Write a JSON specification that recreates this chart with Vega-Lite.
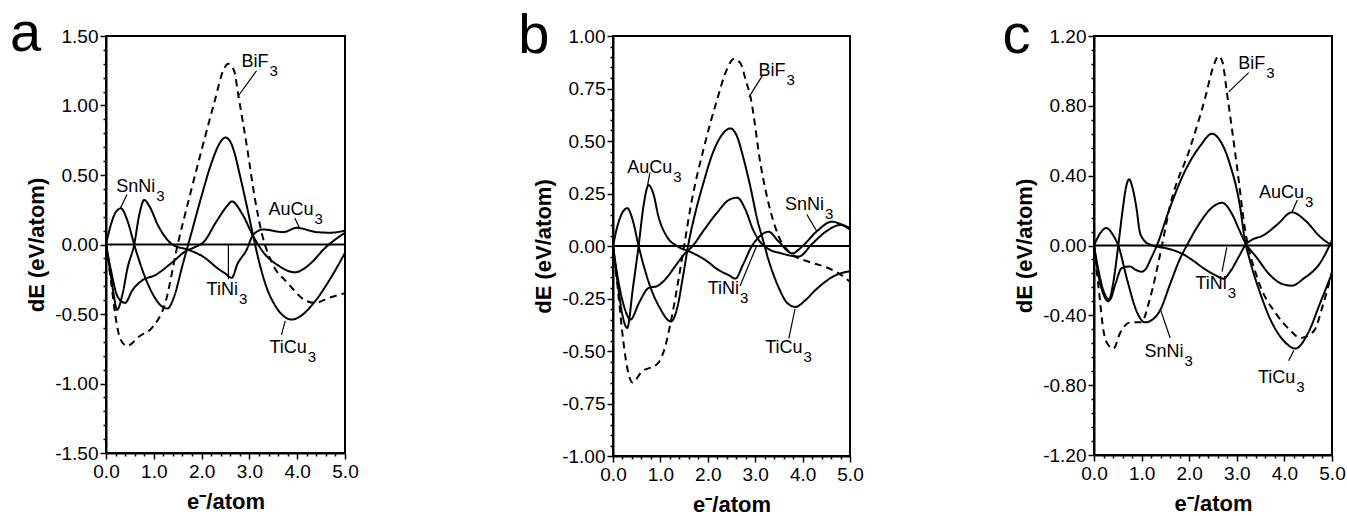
{
"$schema": "https://vega.github.io/schema/vega-lite/v6.json",
"background": "white",
"padding": {"left": 9, "top": 5, "right": 0, "bottom": 0},
"config": {"view": {"stroke": "black", "strokeWidth": 2}, "font": "Liberation Sans", "concat": {"spacing": 136},
 "axis": {"grid":false,"domainColor":"black","domainWidth":2,"tickColor":"black","tickWidth":1.5,"labelColor":"black","labelFontSize":19,"labelFont":"Liberation Sans","labelOverlap":false,"labelFlush":false,"titleFontSize":22,"titleFont":"Liberation Sans","titleFontWeight":"bold","titleColor":"black"},
 "axisX": {"labelPadding":3,"titlePadding":10},
 "axisY": {"labelPadding":2,"titlePadding":6},
 "text": {"font":"Liberation Sans","color":"black"}},
"datasets": {
"curves": [
{"panel":"a","series":"BiF3","x":0,"y":0},{"panel":"a","series":"BiF3","x":0.1,"y":-0.25},{"panel":"a","series":"BiF3","x":0.2,"y":-0.52},{"panel":"a","series":"BiF3","x":0.3,"y":-0.68},{"panel":"a","series":"BiF3","x":0.44,"y":-0.73},{"panel":"a","series":"BiF3","x":0.7,"y":-0.66},{"panel":"a","series":"BiF3","x":0.96,"y":-0.6},{"panel":"a","series":"BiF3","x":1.24,"y":-0.42},{"panel":"a","series":"BiF3","x":1.5,"y":0},{"panel":"a","series":"BiF3","x":1.73,"y":0.32},{"panel":"a","series":"BiF3","x":2.0,"y":0.68},{"panel":"a","series":"BiF3","x":2.28,"y":1.04},{"panel":"a","series":"BiF3","x":2.45,"y":1.25},{"panel":"a","series":"BiF3","x":2.56,"y":1.3},{"panel":"a","series":"BiF3","x":2.68,"y":1.25},{"panel":"a","series":"BiF3","x":2.77,"y":1.07},{"panel":"a","series":"BiF3","x":2.95,"y":0.7},{"panel":"a","series":"BiF3","x":3.12,"y":0.32},{"panel":"a","series":"BiF3","x":3.26,"y":0.08},{"panel":"a","series":"BiF3","x":3.47,"y":-0.13},{"panel":"a","series":"BiF3","x":3.81,"y":-0.28},{"panel":"a","series":"BiF3","x":4.16,"y":-0.4},{"panel":"a","series":"BiF3","x":4.37,"y":-0.42},{"panel":"a","series":"BiF3","x":4.7,"y":-0.38},{"panel":"a","series":"BiF3","x":5.0,"y":-0.35},
{"panel":"a","series":"S1","x":0,"y":0},{"panel":"a","series":"S1","x":0.1,"y":0.14},{"panel":"a","series":"S1","x":0.2,"y":0.23},{"panel":"a","series":"S1","x":0.31,"y":0.26},{"panel":"a","series":"S1","x":0.45,"y":0.17},{"panel":"a","series":"S1","x":0.59,"y":0},{"panel":"a","series":"S1","x":0.8,"y":-0.22},{"panel":"a","series":"S1","x":1.0,"y":-0.37},{"panel":"a","series":"S1","x":1.15,"y":-0.44},{"panel":"a","series":"S1","x":1.29,"y":-0.46},{"panel":"a","series":"S1","x":1.42,"y":-0.38},{"panel":"a","series":"S1","x":1.6,"y":-0.15},{"panel":"a","series":"S1","x":1.8,"y":0.1},{"panel":"a","series":"S1","x":2.0,"y":0.35},{"panel":"a","series":"S1","x":2.2,"y":0.58},{"panel":"a","series":"S1","x":2.4,"y":0.74},{"panel":"a","series":"S1","x":2.5,"y":0.77},{"panel":"a","series":"S1","x":2.6,"y":0.74},{"panel":"a","series":"S1","x":2.67,"y":0.68},{"panel":"a","series":"S1","x":2.8,"y":0.5},{"panel":"a","series":"S1","x":2.95,"y":0.27},{"panel":"a","series":"S1","x":3.08,"y":0.06},{"panel":"a","series":"S1","x":3.2,"y":-0.12},{"panel":"a","series":"S1","x":3.35,"y":-0.3},{"panel":"a","series":"S1","x":3.54,"y":-0.44},{"panel":"a","series":"S1","x":3.7,"y":-0.51},{"panel":"a","series":"S1","x":3.88,"y":-0.54},{"panel":"a","series":"S1","x":4.05,"y":-0.52},{"panel":"a","series":"S1","x":4.3,"y":-0.44},{"panel":"a","series":"S1","x":4.72,"y":-0.23},{"panel":"a","series":"S1","x":5.0,"y":-0.06},
{"panel":"a","series":"S2","x":0,"y":0},{"panel":"a","series":"S2","x":0.1,"y":-0.22},{"panel":"a","series":"S2","x":0.17,"y":-0.38},{"panel":"a","series":"S2","x":0.23,"y":-0.47},{"panel":"a","series":"S2","x":0.35,"y":-0.35},{"panel":"a","series":"S2","x":0.45,"y":-0.17},{"panel":"a","series":"S2","x":0.59,"y":0},{"panel":"a","series":"S2","x":0.7,"y":0.22},{"panel":"a","series":"S2","x":0.8,"y":0.32},{"panel":"a","series":"S2","x":0.9,"y":0.28},{"panel":"a","series":"S2","x":1.1,"y":0.13},{"panel":"a","series":"S2","x":1.39,"y":0},{"panel":"a","series":"S2","x":1.74,"y":-0.04},{"panel":"a","series":"S2","x":2.02,"y":-0.085},{"panel":"a","series":"S2","x":2.37,"y":-0.18},{"panel":"a","series":"S2","x":2.5,"y":-0.21},{"panel":"a","series":"S2","x":2.63,"y":-0.24},{"panel":"a","series":"S2","x":2.75,"y":-0.14},{"panel":"a","series":"S2","x":2.94,"y":-0.04},{"panel":"a","series":"S2","x":3.08,"y":0.07},{"panel":"a","series":"S2","x":3.29,"y":0.108},{"panel":"a","series":"S2","x":3.71,"y":0.089},{"panel":"a","series":"S2","x":3.99,"y":0.12},{"panel":"a","series":"S2","x":4.41,"y":0.089},{"panel":"a","series":"S2","x":4.7,"y":0.085},{"panel":"a","series":"S2","x":5.0,"y":0.1},
{"panel":"a","series":"S3","x":0,"y":0},{"panel":"a","series":"S3","x":0.1,"y":-0.18},{"panel":"a","series":"S3","x":0.25,"y":-0.38},{"panel":"a","series":"S3","x":0.4,"y":-0.42},{"panel":"a","series":"S3","x":0.55,"y":-0.33},{"panel":"a","series":"S3","x":0.75,"y":-0.26},{"panel":"a","series":"S3","x":1.03,"y":-0.22},{"panel":"a","series":"S3","x":1.38,"y":-0.13},{"panel":"a","series":"S3","x":1.66,"y":-0.05},{"panel":"a","series":"S3","x":1.85,"y":-0.02},{"panel":"a","series":"S3","x":2.05,"y":0.02},{"panel":"a","series":"S3","x":2.3,"y":0.16},{"panel":"a","series":"S3","x":2.54,"y":0.28},{"panel":"a","series":"S3","x":2.63,"y":0.31},{"panel":"a","series":"S3","x":2.85,"y":0.22},{"panel":"a","series":"S3","x":3.08,"y":0.06},{"panel":"a","series":"S3","x":3.3,"y":-0.06},{"panel":"a","series":"S3","x":3.6,"y":-0.15},{"panel":"a","series":"S3","x":3.95,"y":-0.2},{"panel":"a","series":"S3","x":4.3,"y":-0.13},{"panel":"a","series":"S3","x":4.55,"y":-0.036},{"panel":"a","series":"S3","x":5.0,"y":0.085},

{"panel":"b","series":"BiF3","x":0,"y":0},{"panel":"b","series":"BiF3","x":0.1,"y":-0.2},{"panel":"b","series":"BiF3","x":0.2,"y":-0.42},{"panel":"b","series":"BiF3","x":0.3,"y":-0.58},{"panel":"b","series":"BiF3","x":0.41,"y":-0.65},{"panel":"b","series":"BiF3","x":0.6,"y":-0.6},{"panel":"b","series":"BiF3","x":0.94,"y":-0.56},{"panel":"b","series":"BiF3","x":1.1,"y":-0.48},{"panel":"b","series":"BiF3","x":1.22,"y":-0.36},{"panel":"b","series":"BiF3","x":1.5,"y":0},{"panel":"b","series":"BiF3","x":1.64,"y":0.19},{"panel":"b","series":"BiF3","x":1.92,"y":0.47},{"panel":"b","series":"BiF3","x":2.2,"y":0.7},{"panel":"b","series":"BiF3","x":2.4,"y":0.84},{"panel":"b","series":"BiF3","x":2.55,"y":0.89},{"panel":"b","series":"BiF3","x":2.69,"y":0.87},{"panel":"b","series":"BiF3","x":2.8,"y":0.79},{"panel":"b","series":"BiF3","x":2.9,"y":0.71},{"panel":"b","series":"BiF3","x":3.12,"y":0.38},{"panel":"b","series":"BiF3","x":3.33,"y":0.16},{"panel":"b","series":"BiF3","x":3.5,"y":0.044},{"panel":"b","series":"BiF3","x":3.78,"y":-0.04},{"panel":"b","series":"BiF3","x":4.13,"y":-0.075},{"panel":"b","series":"BiF3","x":4.55,"y":-0.106},{"panel":"b","series":"BiF3","x":4.76,"y":-0.13},{"panel":"b","series":"BiF3","x":5.0,"y":-0.17},
{"panel":"b","series":"S1","x":0,"y":0},{"panel":"b","series":"S1","x":0.1,"y":0.1},{"panel":"b","series":"S1","x":0.2,"y":0.16},{"panel":"b","series":"S1","x":0.3,"y":0.18},{"panel":"b","series":"S1","x":0.42,"y":0.12},{"panel":"b","series":"S1","x":0.54,"y":0},{"panel":"b","series":"S1","x":0.75,"y":-0.17},{"panel":"b","series":"S1","x":1.0,"y":-0.3},{"panel":"b","series":"S1","x":1.22,"y":-0.36},{"panel":"b","series":"S1","x":1.36,"y":-0.29},{"panel":"b","series":"S1","x":1.48,"y":-0.14},{"panel":"b","series":"S1","x":1.6,"y":0.02},{"panel":"b","series":"S1","x":1.75,"y":0.17},{"panel":"b","series":"S1","x":1.92,"y":0.31},{"panel":"b","series":"S1","x":2.1,"y":0.44},{"panel":"b","series":"S1","x":2.3,"y":0.53},{"panel":"b","series":"S1","x":2.48,"y":0.56},{"panel":"b","series":"S1","x":2.62,"y":0.52},{"panel":"b","series":"S1","x":2.75,"y":0.42},{"panel":"b","series":"S1","x":2.9,"y":0.28},{"panel":"b","series":"S1","x":3.05,"y":0.12},{"panel":"b","series":"S1","x":3.15,"y":0.04},{"panel":"b","series":"S1","x":3.3,"y":-0.08},{"panel":"b","series":"S1","x":3.5,"y":-0.2},{"panel":"b","series":"S1","x":3.67,"y":-0.27},{"panel":"b","series":"S1","x":3.85,"y":-0.29},{"panel":"b","series":"S1","x":4.05,"y":-0.26},{"panel":"b","series":"S1","x":4.27,"y":-0.21},{"panel":"b","series":"S1","x":4.69,"y":-0.14},{"panel":"b","series":"S1","x":5.0,"y":-0.12},
{"panel":"b","series":"S2","x":0,"y":0},{"panel":"b","series":"S2","x":0.1,"y":-0.18},{"panel":"b","series":"S2","x":0.2,"y":-0.33},{"panel":"b","series":"S2","x":0.3,"y":-0.39},{"panel":"b","series":"S2","x":0.42,"y":-0.2},{"panel":"b","series":"S2","x":0.54,"y":0},{"panel":"b","series":"S2","x":0.65,"y":0.2},{"panel":"b","series":"S2","x":0.75,"y":0.29},{"panel":"b","series":"S2","x":0.85,"y":0.25},{"panel":"b","series":"S2","x":0.96,"y":0.14},{"panel":"b","series":"S2","x":1.15,"y":0.04},{"panel":"b","series":"S2","x":1.35,"y":0},{"panel":"b","series":"S2","x":1.65,"y":-0.03},{"panel":"b","series":"S2","x":1.95,"y":-0.067},{"panel":"b","series":"S2","x":2.23,"y":-0.115},{"panel":"b","series":"S2","x":2.45,"y":-0.14},{"panel":"b","series":"S2","x":2.58,"y":-0.155},{"panel":"b","series":"S2","x":2.75,"y":-0.085},{"panel":"b","series":"S2","x":2.93,"y":0},{"panel":"b","series":"S2","x":3.07,"y":0.04},{"panel":"b","series":"S2","x":3.28,"y":0.068},{"panel":"b","series":"S2","x":3.5,"y":0.02},{"panel":"b","series":"S2","x":3.78,"y":-0.035},{"panel":"b","series":"S2","x":4.0,"y":0},{"panel":"b","series":"S2","x":4.3,"y":0.07},{"panel":"b","series":"S2","x":4.62,"y":0.116},{"panel":"b","series":"S2","x":4.8,"y":0.105},{"panel":"b","series":"S2","x":5.0,"y":0.085},
{"panel":"b","series":"S3","x":0,"y":0},{"panel":"b","series":"S3","x":0.1,"y":-0.15},{"panel":"b","series":"S3","x":0.25,"y":-0.3},{"panel":"b","series":"S3","x":0.37,"y":-0.35},{"panel":"b","series":"S3","x":0.55,"y":-0.27},{"panel":"b","series":"S3","x":0.75,"y":-0.2},{"panel":"b","series":"S3","x":0.94,"y":-0.19},{"panel":"b","series":"S3","x":1.1,"y":-0.16},{"panel":"b","series":"S3","x":1.3,"y":-0.1},{"panel":"b","series":"S3","x":1.5,"y":-0.04},{"panel":"b","series":"S3","x":1.68,"y":0},{"panel":"b","series":"S3","x":1.9,"y":0.07},{"panel":"b","series":"S3","x":2.2,"y":0.16},{"panel":"b","series":"S3","x":2.45,"y":0.22},{"panel":"b","series":"S3","x":2.62,"y":0.23},{"panel":"b","series":"S3","x":2.8,"y":0.17},{"panel":"b","series":"S3","x":2.95,"y":0.08},{"panel":"b","series":"S3","x":3.07,"y":0.03},{"panel":"b","series":"S3","x":3.25,"y":-0.01},{"panel":"b","series":"S3","x":3.55,"y":-0.035},{"panel":"b","series":"S3","x":3.92,"y":-0.05},{"panel":"b","series":"S3","x":4.2,"y":0.01},{"panel":"b","series":"S3","x":4.5,"y":0.07},{"panel":"b","series":"S3","x":4.8,"y":0.1},{"panel":"b","series":"S3","x":5.0,"y":0.078},

{"panel":"c","series":"BiF3","x":0,"y":0},{"panel":"c","series":"BiF3","x":0.1,"y":-0.25},{"panel":"c","series":"BiF3","x":0.2,"y":-0.49},{"panel":"c","series":"BiF3","x":0.3,"y":-0.57},{"panel":"c","series":"BiF3","x":0.41,"y":-0.59},{"panel":"c","series":"BiF3","x":0.55,"y":-0.5},{"panel":"c","series":"BiF3","x":0.76,"y":-0.44},{"panel":"c","series":"BiF3","x":0.99,"y":-0.44},{"panel":"c","series":"BiF3","x":1.18,"y":-0.3},{"panel":"c","series":"BiF3","x":1.39,"y":-0.05},{"panel":"c","series":"BiF3","x":1.6,"y":0.23},{"panel":"c","series":"BiF3","x":2.02,"y":0.56},{"panel":"c","series":"BiF3","x":2.34,"y":0.85},{"panel":"c","series":"BiF3","x":2.5,"y":1.02},{"panel":"c","series":"BiF3","x":2.62,"y":1.085},{"panel":"c","series":"BiF3","x":2.7,"y":1.05},{"panel":"c","series":"BiF3","x":2.79,"y":0.88},{"panel":"c","series":"BiF3","x":3.0,"y":0.46},{"panel":"c","series":"BiF3","x":3.18,"y":0.08},{"panel":"c","series":"BiF3","x":3.43,"y":-0.185},{"panel":"c","series":"BiF3","x":3.85,"y":-0.4},{"panel":"c","series":"BiF3","x":4.1,"y":-0.48},{"panel":"c","series":"BiF3","x":4.34,"y":-0.53},{"panel":"c","series":"BiF3","x":4.62,"y":-0.49},{"panel":"c","series":"BiF3","x":4.8,"y":-0.35},{"panel":"c","series":"BiF3","x":5.0,"y":-0.15},
{"panel":"c","series":"S1","x":0,"y":0},{"panel":"c","series":"S1","x":0.1,"y":-0.15},{"panel":"c","series":"S1","x":0.2,"y":-0.26},{"panel":"c","series":"S1","x":0.33,"y":-0.31},{"panel":"c","series":"S1","x":0.45,"y":-0.22},{"panel":"c","series":"S1","x":0.58,"y":-0.13},{"panel":"c","series":"S1","x":0.75,"y":-0.12},{"panel":"c","series":"S1","x":0.88,"y":-0.14},{"panel":"c","series":"S1","x":1.0,"y":-0.15},{"panel":"c","series":"S1","x":1.1,"y":-0.13},{"panel":"c","series":"S1","x":1.17,"y":-0.09},{"panel":"c","series":"S1","x":1.32,"y":0},{"panel":"c","series":"S1","x":1.6,"y":0.22},{"panel":"c","series":"S1","x":1.9,"y":0.42},{"panel":"c","series":"S1","x":2.23,"y":0.57},{"panel":"c","series":"S1","x":2.48,"y":0.64},{"panel":"c","series":"S1","x":2.65,"y":0.6},{"panel":"c","series":"S1","x":2.85,"y":0.47},{"panel":"c","series":"S1","x":3.07,"y":0.22},{"panel":"c","series":"S1","x":3.17,"y":0.03},{"panel":"c","series":"S1","x":3.28,"y":-0.09},{"panel":"c","series":"S1","x":3.5,"y":-0.28},{"panel":"c","series":"S1","x":3.7,"y":-0.42},{"panel":"c","series":"S1","x":4.0,"y":-0.55},{"panel":"c","series":"S1","x":4.23,"y":-0.59},{"panel":"c","series":"S1","x":4.5,"y":-0.5},{"panel":"c","series":"S1","x":4.75,"y":-0.33},{"panel":"c","series":"S1","x":5.0,"y":-0.16},
{"panel":"c","series":"S2","x":0,"y":0},{"panel":"c","series":"S2","x":0.1,"y":-0.18},{"panel":"c","series":"S2","x":0.2,"y":-0.28},{"panel":"c","series":"S2","x":0.3,"y":-0.32},{"panel":"c","series":"S2","x":0.4,"y":-0.22},{"panel":"c","series":"S2","x":0.51,"y":0},{"panel":"c","series":"S2","x":0.6,"y":0.2},{"panel":"c","series":"S2","x":0.67,"y":0.33},{"panel":"c","series":"S2","x":0.74,"y":0.38},{"panel":"c","series":"S2","x":0.8,"y":0.34},{"panel":"c","series":"S2","x":0.9,"y":0.2},{"panel":"c","series":"S2","x":0.96,"y":0.08},{"panel":"c","series":"S2","x":1.05,"y":0.03},{"panel":"c","series":"S2","x":1.17,"y":0.006},{"panel":"c","series":"S2","x":1.3,"y":-0.005},{"panel":"c","series":"S2","x":1.5,"y":-0.015},{"panel":"c","series":"S2","x":1.87,"y":-0.05},{"panel":"c","series":"S2","x":2.1,"y":-0.09},{"panel":"c","series":"S2","x":2.3,"y":-0.13},{"panel":"c","series":"S2","x":2.55,"y":-0.17},{"panel":"c","series":"S2","x":2.72,"y":-0.19},{"panel":"c","series":"S2","x":2.86,"y":-0.15},{"panel":"c","series":"S2","x":3.05,"y":-0.06},{"panel":"c","series":"S2","x":3.2,"y":0.01},{"panel":"c","series":"S2","x":3.3,"y":0.03},{"panel":"c","series":"S2","x":3.57,"y":0.06},{"panel":"c","series":"S2","x":3.85,"y":0.12},{"panel":"c","series":"S2","x":4.16,"y":0.19},{"panel":"c","series":"S2","x":4.45,"y":0.14},{"panel":"c","series":"S2","x":4.75,"y":0.05},{"panel":"c","series":"S2","x":5.0,"y":0},
{"panel":"c","series":"S3","x":0,"y":0},{"panel":"c","series":"S3","x":0.13,"y":0.07},{"panel":"c","series":"S3","x":0.26,"y":0.1},{"panel":"c","series":"S3","x":0.4,"y":0.06},{"panel":"c","series":"S3","x":0.51,"y":0},{"panel":"c","series":"S3","x":0.7,"y":-0.2},{"panel":"c","series":"S3","x":0.9,"y":-0.38},{"panel":"c","series":"S3","x":1.07,"y":-0.44},{"panel":"c","series":"S3","x":1.25,"y":-0.42},{"panel":"c","series":"S3","x":1.39,"y":-0.37},{"panel":"c","series":"S3","x":1.6,"y":-0.22},{"panel":"c","series":"S3","x":1.8,"y":-0.08},{"panel":"c","series":"S3","x":1.95,"y":0},{"panel":"c","series":"S3","x":2.2,"y":0.12},{"panel":"c","series":"S3","x":2.45,"y":0.21},{"panel":"c","series":"S3","x":2.69,"y":0.245},{"panel":"c","series":"S3","x":2.9,"y":0.18},{"panel":"c","series":"S3","x":3.05,"y":0.09},{"panel":"c","series":"S3","x":3.17,"y":0.02},{"panel":"c","series":"S3","x":3.42,"y":-0.07},{"panel":"c","series":"S3","x":3.7,"y":-0.17},{"panel":"c","series":"S3","x":3.95,"y":-0.22},{"panel":"c","series":"S3","x":4.16,"y":-0.23},{"panel":"c","series":"S3","x":4.4,"y":-0.19},{"panel":"c","series":"S3","x":4.75,"y":-0.1},{"panel":"c","series":"S3","x":5.0,"y":0.03}
],
"labels": [
{"panel":"a","main":"BiF","sub":"3","x":3.4,"y":1.28},
{"panel":"a","main":"SnNi","sub":"3","x":1.03,"y":0.38},
{"panel":"a","main":"AuCu","sub":"3","x":4.34,"y":0.21},
{"panel":"a","main":"TiNi","sub":"3","x":2.76,"y":-0.36},
{"panel":"a","main":"TiCu","sub":"3","x":4.2,"y":-0.78},
{"panel":"b","main":"BiF","sub":"3","x":3.64,"y":0.81},
{"panel":"b","main":"AuCu","sub":"3","x":1.25,"y":0.35},
{"panel":"b","main":"SnNi","sub":"3","x":4.45,"y":0.17},
{"panel":"b","main":"TiNi","sub":"3","x":2.66,"y":-0.23},
{"panel":"b","main":"TiCu","sub":"3","x":4.0,"y":-0.51},
{"panel":"c","main":"BiF","sub":"3","x":3.6,"y":1.01},
{"panel":"c","main":"AuCu","sub":"3","x":4.41,"y":0.27},
{"panel":"c","main":"TiNi","sub":"3","x":2.79,"y":-0.25},
{"panel":"c","main":"SnNi","sub":"3","x":1.88,"y":-0.64},
{"panel":"c","main":"TiCu","sub":"3","x":4.23,"y":-0.79}
],
"leaders": [
{"panel":"a","x":3.15,"y":1.25,"x2":2.77,"y2":1.07},
{"panel":"a","x":0.44,"y":0.36,"x2":0.3,"y2":0.26},
{"panel":"a","x":3.95,"y":0.19,"x2":4.06,"y2":0.11},
{"panel":"a","x":2.56,"y":-0.25,"x2":2.56,"y2":0},
{"panel":"a","x":3.75,"y":-0.55,"x2":3.67,"y2":-0.65},
{"panel":"b","x":3.15,"y":0.81,"x2":2.87,"y2":0.71},
{"panel":"b","x":0.78,"y":0.35,"x2":0.73,"y2":0.29},
{"panel":"b","x":4.09,"y":0.15,"x2":4.3,"y2":0.07},
{"panel":"b","x":2.68,"y":-0.19,"x2":3.03,"y2":0},
{"panel":"b","x":3.84,"y":-0.3,"x2":3.71,"y2":-0.44},
{"panel":"c","x":3.25,"y":0.99,"x2":2.83,"y2":0.88},
{"panel":"c","x":4.27,"y":0.26,"x2":4.16,"y2":0.19},
{"panel":"c","x":2.69,"y":-0.15,"x2":2.79,"y2":-0.01},
{"panel":"c","x":1.6,"y":-0.53,"x2":1.4,"y2":-0.37},
{"panel":"c","x":4.09,"y":-0.66,"x2":4.2,"y2":-0.6}
],
"zero": [
{"panel":"a","x":0,"y":0,"x2":5,"y2":0},
{"panel":"b","x":0,"y":0,"x2":5,"y2":0},
{"panel":"c","x":0,"y":0,"x2":5,"y2":0}
],
"letters": [
{"panel":"a","letter":"a","x":-1.68,"y":1.39},
{"panel":"b","letter":"b","x":-1.67,"y":0.92},
{"panel":"c","letter":"c","x":-1.63,"y":1.1}
]
},
"hconcat": [
{
"width": 239, "height": 417,
"encoding": {
"x": {"field":"x","type":"quantitative","scale":{"domain":[0,5],"nice":false,"zero":false},
 "axis":{"title":"e⁻/atom","values":[0,0.2,0.4,0.6,0.8,1,1.2,1.4,1.6,1.8,2,2.2,2.4,2.6,2.8,3,3.2,3.4,3.6,3.8,4,4.2,4.4,4.6,4.8,5],
 "labelExpr":"datum.value % 1 == 0 ? format(datum.value, '.1f') : ''",
 "tickSize":{"condition":{"test":"datum.value % 1 == 0","value":6},"value":3}}},
"y": {"field":"y","type":"quantitative","scale":{"domain":[-1.5,1.5],"nice":false,"zero":false},
 "axis":{"title":"dE (eV/atom)","values":[-1.5,-1.4,-1.3,-1.2,-1.1,-1,-0.9,-0.8,-0.7,-0.6,-0.5,-0.4,-0.3,-0.2,-0.1,0,0.1,0.2,0.3,0.4,0.5,0.6,0.7,0.8,0.9,1,1.1,1.2,1.3,1.4,1.5],
 "labelExpr":"abs(datum.value*2 - round(datum.value*2)) < 0.000001 ? replace(format(datum.value, '.2f'), '−', '-') : ''",
 "tickSize":{"condition":{"test":"abs(datum.value*2 - round(datum.value*2)) < 0.000001","value":6},"value":3}}}
},
"layer": [
{"data":{"name":"zero"},"transform":[{"filter":"datum.panel == 'a'"}],"mark":{"type":"rule","strokeWidth":2,"color":"black"},"encoding":{"x2":{"field":"x2"},"y2":{"field":"y2"}}},
{"data":{"name":"curves"},"transform":[{"filter":"datum.panel == 'a'"}],"mark":{"type":"line","interpolate":"monotone","strokeWidth":2,"color":"black"},
 "encoding":{"detail":{"field":"series"},"strokeDash":{"field":"series","type":"nominal","scale":{"domain":["BiF3","S1","S2","S3"],"range":[[7,5],[1,0],[1,0],[1,0]]},"legend":null}}},
{"data":{"name":"leaders"},"transform":[{"filter":"datum.panel == 'a'"}],"mark":{"type":"rule","strokeWidth":1.2,"color":"black"},"encoding":{"x2":{"field":"x2"},"y2":{"field":"y2"}}},
{"data":{"name":"labels"},"transform":[{"filter":"datum.panel == 'a'"}],"mark":{"type":"text","align":"right","baseline":"alphabetic","fontSize":18},"encoding":{"text":{"field":"main"}}},
{"data":{"name":"labels"},"transform":[{"filter":"datum.panel == 'a'"}],"mark":{"type":"text","align":"left","baseline":"alphabetic","dx":1,"dy":9,"fontSize":15},"encoding":{"text":{"field":"sub"}}},
{"data":{"name":"letters"},"transform":[{"filter":"datum.panel == 'a'"}],"mark":{"type":"text","align":"center","baseline":"alphabetic","fontSize":56},"encoding":{"text":{"field":"letter"}}},
{"data":{"name":"letters"},"transform":[{"filter":"datum.panel == 'a'"}],"mark":{"type":"text","align":"left","baseline":"middle","fontSize":24,"opacity":0},"encoding":{"text":{"value":"M"},"x":{"datum":5.3},"y":{"datum":0}}}
]
},
{
"width": 237, "height": 420,
"encoding": {
"x": {"field":"x","type":"quantitative","scale":{"domain":[0,5],"nice":false,"zero":false},
 "axis":{"title":"e⁻/atom","values":[0,0.2,0.4,0.6,0.8,1,1.2,1.4,1.6,1.8,2,2.2,2.4,2.6,2.8,3,3.2,3.4,3.6,3.8,4,4.2,4.4,4.6,4.8,5],
 "labelExpr":"datum.value % 1 == 0 ? format(datum.value, '.1f') : ''",
 "tickSize":{"condition":{"test":"datum.value % 1 == 0","value":6},"value":3}}},
"y": {"field":"y","type":"quantitative","scale":{"domain":[-1,1],"nice":false,"zero":false},
 "axis":{"title":"dE (eV/atom)","values":[-1,-0.95,-0.9,-0.85,-0.8,-0.75,-0.7,-0.65,-0.6,-0.55,-0.5,-0.45,-0.4,-0.35,-0.3,-0.25,-0.2,-0.15,-0.1,-0.05,0,0.05,0.1,0.15,0.2,0.25,0.3,0.35,0.4,0.45,0.5,0.55,0.6,0.65,0.7,0.75,0.8,0.85,0.9,0.95,1],
 "labelExpr":"abs(datum.value*4 - round(datum.value*4)) < 0.000001 ? replace(format(datum.value, '.2f'), '−', '-') : ''",
 "tickSize":{"condition":{"test":"abs(datum.value*4 - round(datum.value*4)) < 0.000001","value":6},"value":3}}}
},
"layer": [
{"data":{"name":"zero"},"transform":[{"filter":"datum.panel == 'b'"}],"mark":{"type":"rule","strokeWidth":2,"color":"black"},"encoding":{"x2":{"field":"x2"},"y2":{"field":"y2"}}},
{"data":{"name":"curves"},"transform":[{"filter":"datum.panel == 'b'"}],"mark":{"type":"line","interpolate":"monotone","strokeWidth":2,"color":"black"},
 "encoding":{"detail":{"field":"series"},"strokeDash":{"field":"series","type":"nominal","scale":{"domain":["BiF3","S1","S2","S3"],"range":[[7,5],[1,0],[1,0],[1,0]]},"legend":null}}},
{"data":{"name":"leaders"},"transform":[{"filter":"datum.panel == 'b'"}],"mark":{"type":"rule","strokeWidth":1.2,"color":"black"},"encoding":{"x2":{"field":"x2"},"y2":{"field":"y2"}}},
{"data":{"name":"labels"},"transform":[{"filter":"datum.panel == 'b'"}],"mark":{"type":"text","align":"right","baseline":"alphabetic","fontSize":18},"encoding":{"text":{"field":"main"}}},
{"data":{"name":"labels"},"transform":[{"filter":"datum.panel == 'b'"}],"mark":{"type":"text","align":"left","baseline":"alphabetic","dx":1,"dy":9,"fontSize":15},"encoding":{"text":{"field":"sub"}}},
{"data":{"name":"letters"},"transform":[{"filter":"datum.panel == 'b'"}],"mark":{"type":"text","align":"center","baseline":"alphabetic","fontSize":56},"encoding":{"text":{"field":"letter"}}}
]
},
{
"width": 238, "height": 419,
"encoding": {
"x": {"field":"x","type":"quantitative","scale":{"domain":[0,5],"nice":false,"zero":false},
 "axis":{"title":"e⁻/atom","values":[0,0.2,0.4,0.6,0.8,1,1.2,1.4,1.6,1.8,2,2.2,2.4,2.6,2.8,3,3.2,3.4,3.6,3.8,4,4.2,4.4,4.6,4.8,5],
 "labelExpr":"datum.value % 1 == 0 ? format(datum.value, '.1f') : ''",
 "tickSize":{"condition":{"test":"datum.value % 1 == 0","value":6},"value":3}}},
"y": {"field":"y","type":"quantitative","scale":{"domain":[-1.2,1.2],"nice":false,"zero":false},
 "axis":{"title":"dE (eV/atom)","values":[-1.2,-1.12,-1.04,-0.96,-0.88,-0.8,-0.72,-0.64,-0.56,-0.48,-0.4,-0.32,-0.24,-0.16,-0.08,0,0.08,0.16,0.24,0.32,0.4,0.48,0.56,0.64,0.72,0.8,0.88,0.96,1.04,1.12,1.2],
 "labelExpr":"abs(datum.value/0.4 - round(datum.value/0.4)) < 0.000001 ? replace(format(datum.value, '.2f'), '−', '-') : ''",
 "tickSize":{"condition":{"test":"abs(datum.value/0.4 - round(datum.value/0.4)) < 0.000001","value":6},"value":3}}}
},
"layer": [
{"data":{"name":"zero"},"transform":[{"filter":"datum.panel == 'c'"}],"mark":{"type":"rule","strokeWidth":2,"color":"black"},"encoding":{"x2":{"field":"x2"},"y2":{"field":"y2"}}},
{"data":{"name":"curves"},"transform":[{"filter":"datum.panel == 'c'"}],"mark":{"type":"line","interpolate":"monotone","strokeWidth":2,"color":"black"},
 "encoding":{"detail":{"field":"series"},"strokeDash":{"field":"series","type":"nominal","scale":{"domain":["BiF3","S1","S2","S3"],"range":[[7,5],[1,0],[1,0],[1,0]]},"legend":null}}},
{"data":{"name":"leaders"},"transform":[{"filter":"datum.panel == 'c'"}],"mark":{"type":"rule","strokeWidth":1.2,"color":"black"},"encoding":{"x2":{"field":"x2"},"y2":{"field":"y2"}}},
{"data":{"name":"labels"},"transform":[{"filter":"datum.panel == 'c'"}],"mark":{"type":"text","align":"right","baseline":"alphabetic","fontSize":18},"encoding":{"text":{"field":"main"}}},
{"data":{"name":"labels"},"transform":[{"filter":"datum.panel == 'c'"}],"mark":{"type":"text","align":"left","baseline":"alphabetic","dx":1,"dy":9,"fontSize":15},"encoding":{"text":{"field":"sub"}}},
{"data":{"name":"letters"},"transform":[{"filter":"datum.panel == 'c'"}],"mark":{"type":"text","align":"center","baseline":"alphabetic","fontSize":56},"encoding":{"text":{"field":"letter"}}}
]
}
]
}
